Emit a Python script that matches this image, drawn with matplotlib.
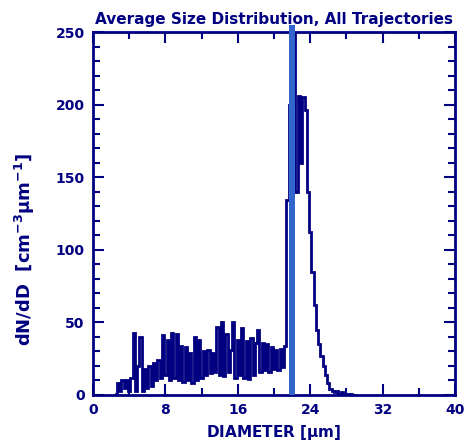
import numpy as np
import matplotlib
matplotlib.use("Agg")
import matplotlib.pyplot as plt
from matplotlib.ticker import MultipleLocator

# Diameter bins (µm) and dN/dD values
diameter = [2.50, 2.75, 3.00, 3.25, 3.50, 3.75, 4.00, 4.25, 4.50, 4.75,
            5.00, 5.25, 5.50, 5.75, 6.00, 6.25, 6.50, 6.75, 7.00, 7.25,
            7.50, 7.75, 8.00, 8.25, 8.50, 8.75, 9.00, 9.25, 9.50, 9.75,
            10.00, 10.25, 10.50, 10.75, 11.00, 11.25, 11.50, 11.75, 12.00, 12.25,
            12.50, 12.75, 13.00, 13.25, 13.50, 13.75, 14.00, 14.25, 14.50, 14.75,
            15.00, 15.25, 15.50, 15.75, 16.00, 16.25, 16.50, 16.75, 17.00, 17.25,
            17.50, 17.75, 18.00, 18.25, 18.50, 18.75, 19.00, 19.25, 19.50, 19.75,
            20.00, 20.25, 20.50, 20.75, 21.00, 21.25, 21.50, 21.75, 22.00, 22.25,
            22.50, 22.75, 23.00, 23.25, 23.50, 23.75, 24.00, 24.25, 24.50, 24.75,
            25.00, 25.25, 25.50, 25.75, 26.00, 26.25, 26.50, 26.75, 27.00, 27.25,
            27.50, 27.75, 28.00, 28.25, 28.50, 28.75, 29.00]
dndd = [1, 8, 3, 10, 5, 10, 3, 12, 43, 3,
        20, 40, 3, 18, 5, 20, 6, 22, 10, 24,
        12, 41, 14, 38, 10, 43, 12, 42, 10, 34,
        9, 33, 10, 29, 8, 40, 10, 38, 12, 30,
        14, 31, 15, 29, 16, 47, 14, 50, 13, 42,
        16, 31, 50, 12, 38, 14, 46, 12, 37, 11,
        39, 14, 36, 45, 16, 36, 17, 35, 16, 33,
        18, 31, 17, 32, 19, 34, 134, 200, 262, 262,
        140, 206, 160, 205, 196, 140, 112, 85, 62, 45,
        35, 27, 20, 14, 8, 4, 3, 2, 3, 1,
        2, 1, 1, 0, 1, 0, 0]

bar_x = 21.98          # position of the highlighted vertical bar
bar_halfwidth = 0.33

x_ticks = [0, 8, 16, 24, 32, 40]
y_ticks = [0, 50, 100, 150, 200, 250]

navy = "#000080"
barblue = "#3366cc"

fig = plt.figure(figsize=(4.66, 4.42), dpi=100)
ax = fig.add_axes([93/466, 1-395/442, (455-93)/466, (395-32)/442])

ax.plot(diameter, dndd, drawstyle="steps-mid", color=navy, lw=2.0,
        solid_joinstyle="miter")
ax.axvspan(bar_x - bar_halfwidth, bar_x + bar_halfwidth, ymin=0, ymax=1.018,
           color=barblue, lw=0, clip_on=False, zorder=3)

ax.set_xlim(0, 40)
ax.set_ylim(0, 250)
ax.set_xticks(x_ticks)
ax.set_yticks(y_ticks)
ax.xaxis.set_minor_locator(MultipleLocator(4))
ax.yaxis.set_minor_locator(MultipleLocator(10))
ax.tick_params(which="both", direction="in", top=True, right=True,
               color=navy, width=1.5, labelcolor=navy)
ax.tick_params(which="major", length=8, labelsize=10, pad=6)
ax.tick_params(which="minor", length=5)
for lab in ax.get_xticklabels() + ax.get_yticklabels():
    lab.set_fontweight("bold")
for s in ax.spines.values():
    s.set_color(navy)
    s.set_linewidth(2)

ax.set_xlabel("DIAMETER [$\\mathbf{\\mu}$m]", color=navy, fontsize=11,
              fontweight="bold", labelpad=4)
ax.set_ylabel("dN/dD  [cm$^{\\mathbf{-3}}\\mathbf{\\mu}$m$^{\\mathbf{-1}}$]",
              color=navy, fontsize=13, fontweight="bold")
ax.yaxis.set_label_coords(-0.155, 0.40)
ax.set_title("Average Size Distribution, All Trajectories", color=navy,
             fontsize=11, fontweight="bold", pad=6)

fig.savefig("out.png", dpi=100)
